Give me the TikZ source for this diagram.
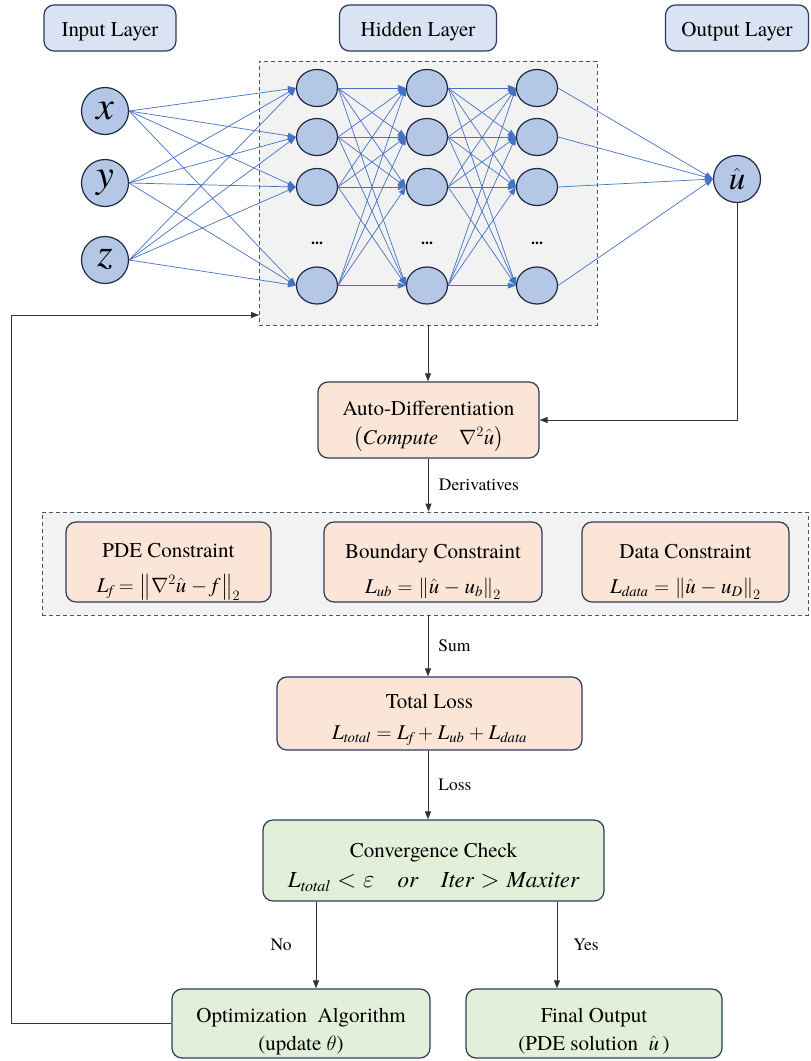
\documentclass[tikz,border=0pt]{standalone}
\usepackage{amsmath}
\usepackage{fontspec}
\setmainfont{texgyretermes}[Extension=.otf, UprightFont=*-regular, BoldFont=*-bold, ItalicFont=*-italic, BoldItalicFont=*-bolditalic]
\usetikzlibrary{arrows.meta,shapes.geometric}
\definecolor{hdrfill}{HTML}{DAE3F3}
\definecolor{navy}{HTML}{2F3B5C}
\definecolor{nodefill}{HTML}{B4C7E7}
\definecolor{nodeline}{HTML}{1F2A40}
\definecolor{nnblue}{HTML}{4472C4}
\definecolor{grayfill}{HTML}{F2F2F2}
\definecolor{dashline}{HTML}{44546A}
\definecolor{pinkfill}{HTML}{FBE5D6}
\definecolor{greenfill}{HTML}{E2F0D9}
\newcommand\tit[1]{\textit{#1}}
\newcommand\topstrut[1]{\rule{0pt}{#1}}
\begin{document}
\begin{tikzpicture}[x=1pt,y=-1pt,
 box/.style={draw=navy, line width=1.2pt, rounded corners=10pt, align=center, inner sep=0pt, font=\fontsize{21}{25}\selectfont},
 hdr/.style={box, fill=hdrfill, minimum height=46pt},
 pinkbox/.style={box, fill=pinkfill},
 greenbox/.style={box, fill=greenfill},
 groupbox/.style={draw=dashline, line width=0.8pt, dash pattern=on 4pt off 3pt, fill=grayfill, inner sep=0pt},
 neuron/.style={ellipse, draw=nodeline, line width=1.2pt, fill=nodefill, minimum width=41pt, minimum height=37pt, inner sep=0pt},
 inp/.style={circle, draw=nodeline, line width=1.2pt, fill=nodefill, minimum size=47pt, inner sep=0pt, font=\fontsize{40}{40}\selectfont},
 dotsnode/.style={font=\fontsize{16}{16}\selectfont\bfseries, inner sep=0pt},
 nnedge/.style={draw=nnblue, line width=0.7pt, -{Triangle[length=8pt,width=6pt]}},
 flow/.style={draw=black!80, line width=0.8pt, -{Triangle[length=8pt,width=6pt]}},
 lbl/.style={font=\fontsize{17.5}{20}\selectfont, inner sep=0pt},
]
\useasboundingbox (0,0) rectangle (811,1061);

% headers
\node[hdr, minimum width=132pt] (hin) at (110,28) {\topstrut{22.5pt}Input Layer};
\node[hdr, minimum width=157pt] (hhid) at (418,28) {\topstrut{22.5pt}Hidden Layer};
\node[hdr, minimum width=143pt] (hout) at (737,28) {\topstrut{22.5pt}Output Layer};

% network group
\node[groupbox, minimum width=338pt, minimum height=264pt] (nn) at (428,193) {};

% input nodes
\node[inp] (ix) at (105,111) {$\tit{x}$};
\node[inp] (iy) at (105,183) {$\tit{y}$};
\node[inp] (iz) at (105,260) {$\tit{z}$};

% hidden nodes
\foreach \c/\xx in {a/317,b/427,c/537}{
  \node[neuron] (\c1) at (\xx,88) {};
  \node[neuron] (\c2) at (\xx,137) {};
  \node[neuron] (\c3) at (\xx,187) {};
  \node[neuron] (\c4) at (\xx,285.5) {};
  \node[dotsnode] (\c d) at (\xx,243) {...};
}

% output node
\node[inp, font=\fontsize{33}{33}\selectfont] (out) at (737,179) {$\hat{\tit{u}}$};

% network edges
\foreach \s in {ix,iy,iz}{
  \foreach \j in {1,...,4}{\draw[nnedge] (\s.east) -- (a\j.west);}
}
\foreach \i in {1,...,4}{
  \foreach \j in {1,...,4}{
    \draw[nnedge] (a\i.east) -- (b\j.west);
    \draw[nnedge] (b\i.east) -- (c\j.west);
  }
  \draw[nnedge] (c\i.east) -- (out.west);
}

% auto differentiation
\node[pinkbox, minimum width=221pt, minimum height=76pt] (ad) at (428.5,420)
  {\topstrut{26.5pt}Auto-Differentiation\\[4pt] $\left(\tit{Compute}\quad \nabla^2\hat{\tit{u}}\right)$};

% constraints group
\node[groupbox, minimum width=766pt, minimum height=103pt] (cons) at (425,563.5) {};
\node[pinkbox, minimum width=205pt, minimum height=80pt] (pde) at (168.5,562)
  {\topstrut{34pt}PDE Constraint\\[10pt] $\tit{L}_{\tit{f}} = \left\| \nabla^2 \hat{\tit{u}} - \tit{f}\, \right\|_2$};
\node[pinkbox, minimum width=218pt, minimum height=80pt] (bnd) at (433,562)
  {\topstrut{34pt}Boundary Constraint\\[10pt] $\tit{L}_{\tit{ub}} = \left\| \hat{\tit{u}} - \tit{u}_{\tit{b}} \right\|_2$};
\node[pinkbox, minimum width=207pt, minimum height=80pt] (dat) at (685.5,562)
  {\topstrut{34pt}Data Constraint\\[10pt] $\tit{L}_{\tit{data}} = \left\| \hat{\tit{u}} - \tit{u}_{\tit{D}} \right\|_2$};

% total loss
\node[pinkbox, minimum width=305pt, minimum height=73pt] (tl) at (429.5,713.5)
  {\topstrut{27.5pt}Total Loss\\[6pt] $\tit{L}_{\tit{total}} = \tit{L}_{\tit{f}} + \tit{L}_{\tit{ub}} + \tit{L}_{\tit{data}}$};

% convergence
\node[greenbox, minimum width=341pt, minimum height=81pt] (conv) at (433.5,860.5)
  {\topstrut{28.5pt}Convergence Check\\[5pt] {\fontsize{23}{26}\selectfont $\tit{L}_{\tit{total}} < \varepsilon \quad \tit{or} \quad \tit{Iter} > \tit{Maxiter}$}};

% bottom boxes
\node[greenbox, minimum width=258pt, minimum height=69pt] (opt) at (301,1023.5)
  {\topstrut{30.5pt}Optimization~~Algorithm\\[3pt] (update $\theta$)};
\node[greenbox, minimum width=256pt, minimum height=69pt] (fin) at (594,1023.5)
  {\topstrut{30.5pt}Final Output\\[3pt] (PDE solution~ $\hat{\tit{u}}$\,)};

% flow connectors
\draw[flow] (nn.south) -- (nn.south |- ad.north);
\draw[flow] (out.south) |- (ad.east);
\draw[flow] (ad.south) -- (ad.south |- cons.north) node[lbl, midway, right=10pt] {Derivatives};
\draw[flow] (cons.south -| nn.south) -- (tl.north -| nn.south) node[lbl, midway, right=10pt] {Sum};
\draw[flow] (tl.south -| nn.south) -- (conv.north -| nn.south) node[lbl, midway, right=10pt] {Loss};
\draw[flow] ([xshift=-117.5pt]conv.south) -- ([xshift=-117.5pt]conv.south |- opt.north) node[lbl, midway, left=24pt] {No};
\draw[flow] ([xshift=123.5pt]conv.south) -- ([xshift=123.5pt]conv.south |- fin.north) node[lbl, midway, right=16pt] {Yes};
\coordinate (fbin) at (259,315);
\draw[flow] (opt.west) -- ++(-160,0) |- (fbin);
\end{tikzpicture}
\end{document}
